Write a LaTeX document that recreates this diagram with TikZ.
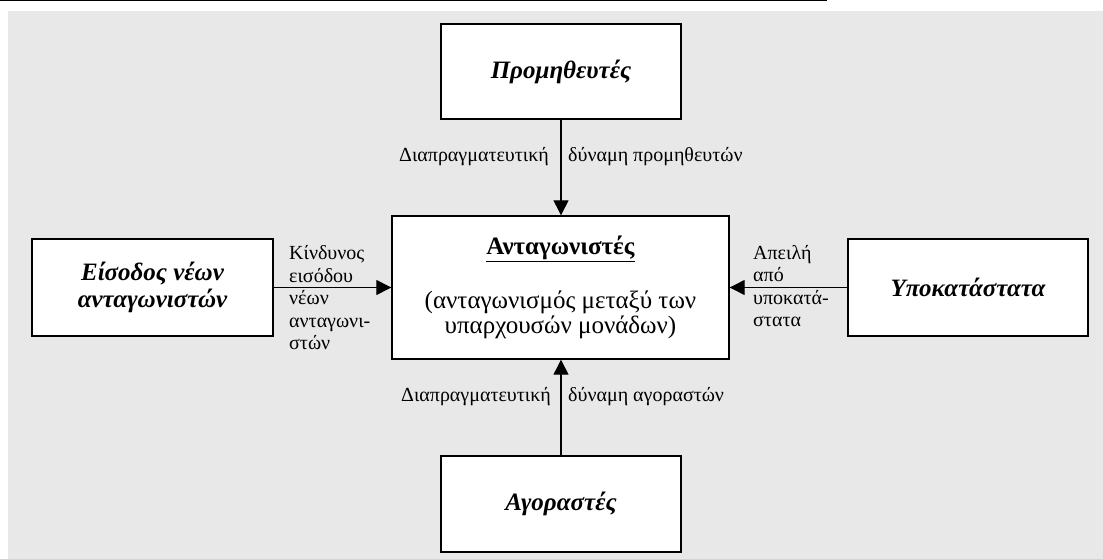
\documentclass[tikz,border=0pt]{standalone}
\usepackage{fontspec}
\setmainfont{Liberation Serif}
\usetikzlibrary{arrows.meta}
\definecolor{panel}{HTML}{E8E8E8}
\begin{document}
\begin{tikzpicture}[x=1pt,y=-1pt,
  box/.style={draw=black,line width=1.4pt,fill=white,inner sep=0pt,align=center},
  boxtitle/.style={font=\fontsize{25}{27}\selectfont\bfseries\itshape},
  maintext/.style={font=\fontsize{25}{25}\selectfont},
  lbl/.style={font=\fontsize{20}{22.5}\selectfont,inner sep=0pt},
  arr/.style={line width=1.3pt,-{Triangle[width=15pt,length=15pt]}}]
\useasboundingbox (0,0) rectangle (1103,559);
% page rule and shaded panel
\draw[line width=1.5pt] (0,0.75) -- (827,0.75);
\fill[panel] (8,11) rectangle (1103,559);

% the five forces
\node[box,boxtitle,minimum width=240pt,minimum height=95pt] (prom) at (561,71.5) {Προμηθευτές};
\node[box,maintext,minimum width=337pt,minimum height=143pt] (comp) at (560.5,287.5)
  {\underline{\textbf{Ανταγωνιστές}}\\[29pt](ανταγωνισμός μεταξύ των\\υπαρχουσών μονάδων)};
\node[box,boxtitle,minimum width=241pt,minimum height=97pt] (entry) at (152.5,287.5) {Είσοδος νέων\\ανταγωνιστών};
\node[box,boxtitle,minimum width=240pt,minimum height=97pt] (subst) at (968,287.5) {Υποκατάστατα};
\node[box,boxtitle,minimum width=240pt,minimum height=96pt] (buy) at (561,504) {Αγοραστές};

% connectors
\draw[arr] (prom.south) -- (prom.south |- comp.north);
\draw[arr] (buy.north) -- (buy.north |- comp.south);
\draw[arr] (entry.east) -- (comp.west);
\draw[arr] (subst.west) -- (comp.east);

% connector labels
\node[lbl,anchor=east] (psl) at (549,157) {Διαπραγματευτική};
\node[lbl,anchor=west] (psr) at (568,157) {δύναμη προμηθευτών};
\node[lbl,anchor=east] (bsl) at (551,397) {Διαπραγματευτική};
\node[lbl,anchor=west] (bsr) at (568,397) {δύναμη αγοραστών};
\node[lbl,anchor=west,align=left] (el) at (289,298) {Κίνδυνος\\εισόδου\\νέων\\ανταγωνι-\\στών};
\node[lbl,anchor=west,align=left] (sl) at (753,286) {Απειλή\\από\\υποκατά-\\στατα};
\end{tikzpicture}
\end{document}
